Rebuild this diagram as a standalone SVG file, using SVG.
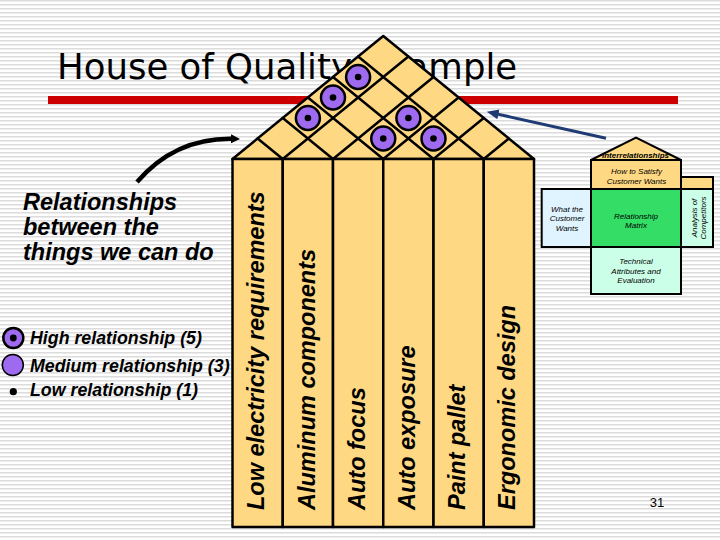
<svg xmlns="http://www.w3.org/2000/svg" width="720" height="540" viewBox="0 0 720 540">
<defs>
<pattern id="stripes" width="8" height="4" patternUnits="userSpaceOnUse">
<rect width="8" height="4" fill="#FFFFFF"/>
<rect y="0.1" width="8" height="1.4" fill="#D9D9D9"/>
</pattern>
<marker id="ahBlack" markerWidth="10" markerHeight="10" refX="1" refY="5" orient="auto" markerUnits="userSpaceOnUse">
<path d="M0,0.5 L9,5 L0,9.5 Z" fill="#000"/>
</marker>
<marker id="ahBlue" markerWidth="13" markerHeight="10" refX="2" refY="5" orient="auto" markerUnits="userSpaceOnUse">
<path d="M0,0 L12,5 L0,10 Z" fill="#1F3B73"/>
</marker>
</defs>
<style>
.cell{fill:#FFD883;stroke:#000;stroke-width:2.5;stroke-linejoin:round}
.grid{stroke:#000;stroke-width:2.5;fill:none;stroke-linecap:round}
.hi{fill:#9E6AF0;stroke:#000;stroke-width:2.5}
.dot{fill:#000}
.coltxt{font-family:"Liberation Sans",Arial,sans-serif;font-weight:bold;font-style:italic;font-size:23.5px;fill:#000}
.big{font-family:"Liberation Sans",Arial,sans-serif;font-weight:bold;font-style:italic;font-size:23.5px;fill:#000}
.leg{font-family:"Liberation Sans",Arial,sans-serif;font-weight:bold;font-style:italic;font-size:17.8px;fill:#000}
.sm{font-family:"Liberation Sans",Arial,sans-serif;font-style:italic;font-size:8px;fill:#000;text-anchor:middle}
.box{stroke:#000;stroke-width:2}
</style>

<rect id="background" width="720" height="540" fill="url(#stripes)"/>

<g id="title">
<text x="57" y="79" font-family="DejaVu Sans, Verdana, sans-serif" font-size="35.5" fill="#000">House of Quality Example</text>
<rect x="48" y="96" width="630" height="8" fill="#CC0000"/>
</g>

<g id="roof">
<polygon class="cell" points="232.5,159 383.25,36 534,159"/>
<path class="grid" d="M282.75,159 L408.375,56.5 M333,159 L433.5,77 M383.25,159 L458.625,97.5 M433.5,159 L483.75,118 M483.75,159 L508.875,138.5 M282.75,159 L257.625,138.5 M333,159 L282.75,118 M383.25,159 L307.875,97.5 M433.5,159 L333,77 M483.75,159 L358.125,56.5"/>
<g id="rel-3-4"><circle class="hi" cx="383.25" cy="138.5" r="12"/><circle class="dot" cx="383.25" cy="138.5" r="3.3"/></g>
<g id="rel-4-5"><circle class="hi" cx="433.5" cy="138.5" r="12"/><circle class="dot" cx="433.5" cy="138.5" r="3.3"/></g>
<g id="rel-3-5"><circle class="hi" cx="408.4" cy="118" r="12"/><circle class="dot" cx="408.4" cy="118" r="3.3"/></g>
<g id="rel-1-3"><circle class="hi" cx="307.9" cy="118" r="12"/><circle class="dot" cx="307.9" cy="118" r="3.3"/></g>
<g id="rel-1-4"><circle class="hi" cx="333" cy="97.5" r="12"/><circle class="dot" cx="333" cy="97.5" r="3.3"/></g>
<g id="rel-1-5"><circle class="hi" cx="358.1" cy="77" r="12"/><circle class="dot" cx="358.1" cy="77" r="3.3"/></g>
</g>

<g id="col1"><rect class="cell" x="232.5" y="159" width="50.25" height="368"/><text class="coltxt" transform="translate(264,510) rotate(-90)">Low electricity requirements</text></g>
<g id="col2"><rect class="cell" x="282.75" y="159" width="50.25" height="368"/><text class="coltxt" transform="translate(315,510) rotate(-90)">Aluminum components</text></g>
<g id="col3"><rect class="cell" x="333" y="159" width="50.25" height="368"/><text class="coltxt" transform="translate(365,510) rotate(-90)">Auto focus</text></g>
<g id="col4"><rect class="cell" x="383.25" y="159" width="50.25" height="368"/><text class="coltxt" transform="translate(415,510) rotate(-90)">Auto exposure</text></g>
<g id="col5"><rect class="cell" x="433.5" y="159" width="50.25" height="368"/><text class="coltxt" transform="translate(465,510) rotate(-90)">Paint pallet</text></g>
<g id="col6"><rect class="cell" x="483.75" y="159" width="50.25" height="368"/><text class="coltxt" transform="translate(515,510) rotate(-90)">Ergonomic design</text></g>

<g id="caption">
<text class="big" x="23" y="210">Relationships</text>
<text class="big" x="23" y="235">between the</text>
<text class="big" x="23" y="260">things we can do</text>
</g>

<g id="legend">
<circle class="hi" cx="13.3" cy="338" r="10" stroke-width="2"/><circle class="dot" cx="13.3" cy="338" r="3.4"/>
<text class="leg" x="30" y="344">High relationship (5)</text>
<circle cx="12.8" cy="365" r="10.5" fill="#9E6AF0" stroke="#000" stroke-width="1.5"/>
<text class="leg" x="30" y="371.5">Medium relationship (3)</text>
<circle class="dot" cx="13.3" cy="391.7" r="3.6"/>
<text class="leg" x="30" y="396">Low relationship (1)</text>
</g>

<g id="small-house">
<g id="sh-roof"><polygon class="box" points="591,160 636,137.7 681,160" fill="#FFD883"/>
<text class="sm" x="635.5" y="157.5" font-size="6" font-weight="bold">Interrelationships</text></g>
<g id="sh-how"><rect class="box" x="591" y="160" width="90" height="29" fill="#FFD883"/>
<text class="sm" x="636.5" y="174" font-size="8.6">How to Satisfy</text>
<text class="sm" x="636.5" y="183.5" font-size="8.6">Customer Wants</text></g>
<g id="sh-compet-top"><rect class="box" x="681" y="177" width="32" height="12" fill="#FFD883"/></g>
<g id="sh-what"><rect class="box" x="541.7" y="189" width="49.3" height="58" fill="#E0F4FF"/>
<text class="sm" x="567" y="212">What the</text>
<text class="sm" x="567" y="221">Customer</text>
<text class="sm" x="567" y="230.5">Wants</text></g>
<g id="sh-matrix"><rect class="box" x="591" y="189" width="90" height="58" fill="#33DD66"/>
<text class="sm" x="636" y="218.5">Relationship</text>
<text class="sm" x="636" y="227.5">Matrix</text></g>
<g id="sh-compet"><rect class="box" x="681" y="189" width="32" height="58" fill="#CCFFE8"/>
<text class="sm" transform="translate(696.5,218) rotate(-90)">Analysis of</text>
<text class="sm" transform="translate(705.5,218) rotate(-90)">Competitors</text></g>
<g id="sh-tech"><rect class="box" x="591" y="247" width="90" height="47" fill="#CCFFE8"/>
<text class="sm" x="636" y="263.5">Technical</text>
<text class="sm" x="636" y="273.5">Attributes and</text>
<text class="sm" x="636" y="283">Evaluation</text></g>
</g>

<g id="connectors">
<path d="M137,182 Q175,138 232,138.8" fill="none" stroke="#000" stroke-width="4.5" marker-end="url(#ahBlack)"/>
<line x1="606" y1="138.3" x2="496.5" y2="113.9" stroke="#1F3B73" stroke-width="3" marker-end="url(#ahBlue)"/>
</g>

<text id="page-number" x="657" y="507" font-family="Liberation Sans, Arial, sans-serif" font-size="13" text-anchor="middle" fill="#000">31</text>
</svg>
